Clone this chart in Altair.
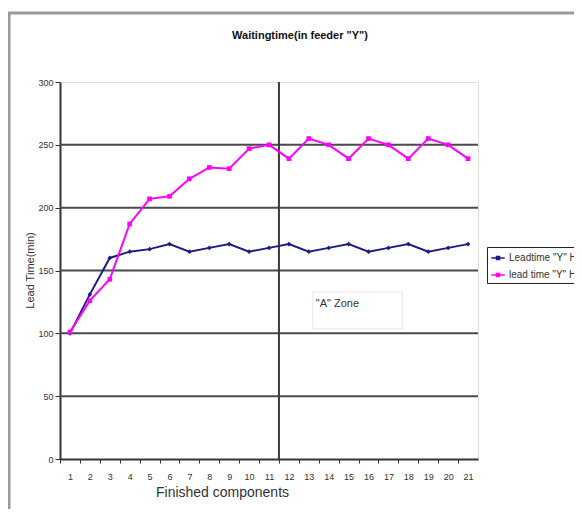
import altair as alt
import pandas as pd

# ---- data ----
components = list(range(1, 22))
leadtime_h = [100, 131, 160, 165, 167, 171, 165, 168, 171, 165, 168,
              171, 165, 168, 171, 165, 168, 171, 165, 168, 171]
leadtime_h1 = [101, 126, 143, 187, 207, 209, 223, 232, 231, 247, 250,
               239, 255, 250, 239, 255, 250, 239, 255, 250, 239]
series_names = ['Leadtime "Y" H1', 'lead time "Y" H1']
series_colors = ["#1c1c88", "#ff00ff"]
series_shapes = ["diamond", "square"]
x_tick_values = list(range(1, 23))
y_tick_values = [0, 50, 100, 150, 200, 250, 300]
grid_values = [50, 100, 150, 200, 250]
zone_split = [11.5]
zone_box_x = [13.2]
zone_box_x2 = [17.7]
zone_box_y = [104]
zone_box_y2 = [133]
zone_label = ['"A" Zone']
zone_label_x = [13.35]
zone_label_y = [123]

rows = []
for name, vals in zip(series_names, [leadtime_h, leadtime_h1]):
    for c, v in zip(components, vals):
        rows.append({"component": c, "value": v, "series": name})
df = pd.DataFrame(rows)

FONT = "Liberation Sans"
W, H = 418, 377
half_band = W / 21 / 2

xscale = alt.Scale(domain=[0.5, 21.5], nice=False, zero=False)
yscale = alt.Scale(domain=[0, 300], nice=False, zero=True)
color_scale = alt.Scale(domain=series_names, range=series_colors)

x_axis = alt.Axis(
    values=x_tick_values,
    labelExpr="datum.value > 21 ? '' : datum.label",
    labelOverlap=False,
    tickOffset=-half_band, labelOffset=half_band,
    tickSize=4, tickColor="#333333", tickWidth=1,
    domainColor="#333333", domainWidth=2,
    labelFont=FONT, labelFontSize=9, labelColor="#333333", labelPadding=9,
    grid=False,
    title="Finished components", titleFont=FONT, titleFontSize=14,
    titleFontWeight="normal", titleColor="#333333",
    titleX=162, titleY=33, titleBaseline="middle", titleAlign="center",
)
y_axis = alt.Axis(
    values=y_tick_values, grid=False,
    tickSize=5, tickColor="#333333",
    domainColor="#333333", domainWidth=2,
    labelFont=FONT, labelFontSize=9, labelColor="#333333", labelPadding=2,
    title="Lead Time(min)", titleFont=FONT, titleFontSize=11,
    titleFontWeight="normal", titleColor="#333333",
    titleX=-30, titleY=188, titleAngle=-90, titleBaseline="middle", titleAlign="center",
)

X = lambda f: alt.X(f, scale=xscale, axis=x_axis)
Y = lambda f: alt.Y(f, scale=yscale, axis=y_axis)

base = alt.Chart(df)

grid = alt.Chart(pd.DataFrame({"g": grid_values})).mark_rule(
    color="#4a4a4a", strokeWidth=2
).encode(y=Y("g:Q"))

split = alt.Chart(pd.DataFrame({"s": zone_split})).mark_rule(
    color="#3a3a3a", strokeWidth=2
).encode(x=X("s:Q"))

box = alt.Chart(pd.DataFrame({"x": zone_box_x, "x2": zone_box_x2,
                              "y": zone_box_y, "y2": zone_box_y2})).mark_rect(
    fill="white", stroke="#e8e8e8", strokeWidth=1
).encode(x=X("x:Q"), x2="x2:Q", y=Y("y:Q"), y2="y2:Q")

box_text = alt.Chart(pd.DataFrame({"t": zone_label, "x": zone_label_x,
                                   "y": zone_label_y})).mark_text(
    align="left", baseline="middle", font=FONT, fontSize=11, color="#333333"
).encode(x=X("x:Q"), y=Y("y:Q"), text="t:N")

lines = base.mark_line(strokeWidth=2).encode(
    x=X("component:Q"),
    y=Y("value:Q"),
    color=alt.Color("series:N", scale=color_scale, sort=series_names,
                    legend=alt.Legend(
                        title=None, orient="none", legendX=427, legendY=165,
                        fillColor="white", strokeColor="#222222", padding=3,
                        symbolType="M-1,0H1M-0.22,-0.22H0.22V0.22H-0.22Z",
                        symbolSize=180, symbolStrokeWidth=1.6, labelOffset=3,
                        labelFont=FONT, labelFontSize=10, labelColor="#333333",
                        rowPadding=4, labelLimit=300)),
)

point_layers = []
for name, shape in zip(series_names, series_shapes):
    point_layers.append(
        base.transform_filter(alt.datum.series == name).mark_point(
            filled=True, opacity=1, shape=shape, size=22
        ).encode(
            x=X("component:Q"),
            y=Y("value:Q"),
            color=alt.Color("series:N", scale=color_scale, legend=None),
        )
    )

frame_top = alt.Chart(pd.DataFrame({"a": [0]})).mark_rule(
    color="#9a9a9a", strokeWidth=3
).encode(x=alt.value(-52), x2=alt.value(530), y=alt.value(-69))
frame_left = alt.Chart(pd.DataFrame({"a": [0]})).mark_rule(
    color="#9a9a9a", strokeWidth=3
).encode(x=alt.value(-51), y=alt.value(-70), y2=alt.value(450))

chart = alt.layer(
    grid, split, box, box_text, lines, *point_layers, frame_top, frame_left
).properties(
    width=W, height=H,
    title=alt.Title('Waitingtime(in feeder "Y")', font=FONT, fontSize=11,
                    fontWeight="bold", color="#111111", anchor="middle",
                    frame="group", dx=31, offset=0, dy=30),
    autosize=alt.AutoSizeParams(type="none"),
    padding={"left": 52, "top": 74, "right": 96, "bottom": 50},
).configure_view(
    fill="#c0c0c0", stroke="#a8a8a8", strokeWidth=1
).configure(background="white")

chart.save("out.html", embed_options={"renderer": "svg", "actions": False})
